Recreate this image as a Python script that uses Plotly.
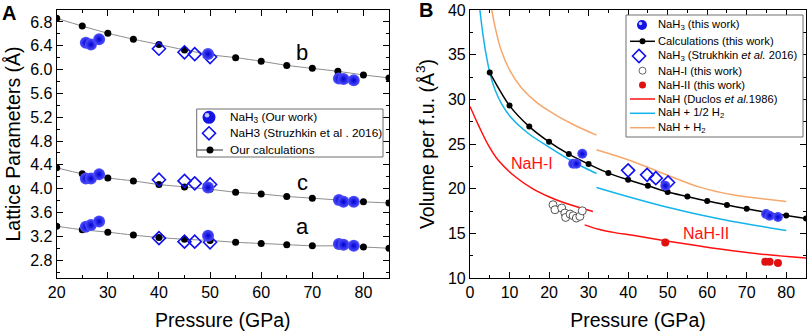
import plotly.graph_objects as go

W, H = 809, 334
FONT = "Arial, Liberation Sans, sans-serif"

# ---------------- Panel A: lattice parameters ----------------
calc_p = [20, 25, 30, 35, 40, 45, 50, 55, 60, 65, 70, 75, 80, 85]
calc_b = [6.86, 6.73, 6.61, 6.51, 6.42, 6.33, 6.25, 6.20, 6.14, 6.07, 6.02, 5.97, 5.91, 5.86]
calc_c = [4.35, 4.25, 4.18, 4.13, 4.07, 4.03, 3.99, 3.94, 3.91, 3.87, 3.84, 3.81, 3.78, 3.76]
calc_a = [3.37, 3.31, 3.27, 3.22, 3.18, 3.15, 3.13, 3.10, 3.08, 3.06, 3.04, 3.04, 3.02, 3.00]

exp_p = [25.7, 26.7, 28.3, 49.6, 75.2, 76.1, 78.1]
exp_b = [6.45, 6.42, 6.51, 6.26, 5.85, 5.84, 5.82]
exp_c = [4.17, 4.17, 4.24, 4.02, 3.81, 3.78, 3.78]
exp_a = [3.36, 3.39, 3.45, 3.21, 3.07, 3.06, 3.04]

str_p = [40, 45, 47, 50]
str_b = [6.35, 6.29, 6.26, 6.21]
str_c = [4.15, 4.13, 4.09, 4.07]
str_a = [3.17, 3.11, 3.11, 3.10]

param_labels = ["b", "c", "a"]
param_label_p = [68, 68, 68]
param_label_v = [6.29, 4.11, 3.36]

# ---------------- Panel B: volume per f.u. ----------------
vcalc_p = [5, 10, 15, 20, 25, 30, 35, 40, 45, 50, 55, 60, 65, 70, 75, 80, 85]
vcalc_v = [33.0, 29.3, 26.95, 25.24, 23.87, 22.75, 21.74, 20.99, 20.32, 19.62,
           19.12, 18.61, 18.16, 17.75, 17.34, 17.0, 16.66]

vexp_p = [26.1, 26.9, 28.4, 49.4, 74.9, 75.8, 77.9]
vexp_v = [22.78, 22.78, 23.9, 20.32, 17.16, 16.97, 16.82]

vstr_p = [40.0, 44.8, 47.0, 50.1]
vstr_v = [22.05, 21.55, 21.18, 20.69]

nah1_p = [21.0, 21.5, 23.2, 24.0, 24.2, 25.3, 26.1, 26.9, 27.8, 28.4]
nah1_v = [18.2, 17.64, 17.83, 17.27, 16.78, 17.16, 16.97, 16.71, 16.9, 17.52]

nah2_p = [49.4, 74.7, 75.8, 77.9]
nah2_v = [13.98, 11.82, 11.82, 11.68]

duc1_p = [0.0, 2.1, 4.6, 7.1, 11.4, 15.6, 19.8, 24.0, 31.1]
duc1_v = [29.2, 27.14, 24.9, 23.2, 21.36, 20.06, 19.12, 18.39, 17.45]
duc2_p = [29.0, 32.8, 36.6, 41.2, 49.7, 58.1, 66.5, 74.9, 85.0]
duc2_v = [15.95, 15.42, 15.08, 14.78, 14.15, 13.58, 13.05, 12.62, 12.24]

half1_p = [2.5, 3.2, 4.0, 5.0, 6.3, 8.0, 10.5, 14.7, 19.8, 25.7, 32.0]
half1_v = [40.0, 37.5, 35.2, 33.0, 31.1, 29.5, 27.9, 26.2, 24.7, 23.1, 21.7]
half2_p = [32.0, 41.2, 49.7, 58.1, 66.5, 80.0]
half2_v = [20.13, 18.95, 17.94, 17.08, 16.33, 15.32]

full1_p = [5.5, 6.5, 7.8, 10.0, 13.0, 17.0, 21.5, 26.5, 32.0]
full1_v = [40.0, 37.8, 35.6, 33.3, 31.3, 29.6, 28.3, 27.1, 26.0]
full2_p = [32.0, 41.2, 49.7, 58.1, 66.5, 80.0]
full2_v = [24.35, 23.04, 21.55, 20.17, 19.31, 18.57]

phase_labels = ["NaH-I", "NaH-II"]
phase_label_p = [15.6, 59.8]
phase_label_v = [22.8, 14.93]

# ---------------- styles ----------------
BLUE = "#1010f0"
SPHERE = dict(color="#5252ff", size=12, line=dict(width=0),
              gradient=dict(type="radial", color="#0000d0"))
RED = "#ff1010"
CYAN = "#12b4ec"
ORANGE = "#f6a86c"

fig = go.Figure()

# Panel A traces
for vals in (calc_b, calc_c, calc_a):
    fig.add_trace(go.Scatter(x=calc_p, y=vals, mode="lines+markers",
                             line=dict(color="#8c8c8c", width=1, shape="spline", smoothing=0.8),
                             marker=dict(color="black", size=7),
                             xaxis="x", yaxis="y", showlegend=False))
for vals in (str_b, str_c, str_a):
    fig.add_trace(go.Scatter(x=str_p, y=vals, mode="markers",
                             marker=dict(symbol="diamond-open", color=BLUE, size=10,
                                         line=dict(width=1.6, color=BLUE)),
                             xaxis="x", yaxis="y", showlegend=False))
for vals in (exp_b, exp_c, exp_a):
    fig.add_trace(go.Scatter(x=exp_p, y=vals, mode="markers", marker=SPHERE,
                             xaxis="x", yaxis="y", showlegend=False))

# Panel B traces
for px_, vy_, col in ((duc1_p, duc1_v, RED), (duc2_p, duc2_v, RED),
                      (half1_p, half1_v, CYAN), (half2_p, half2_v, CYAN),
                      (full1_p, full1_v, ORANGE), (full2_p, full2_v, ORANGE)):
    fig.add_trace(go.Scatter(x=px_, y=vy_, mode="lines",
                             line=dict(color=col, width=1.5, shape="spline", smoothing=1.0),
                             xaxis="x2", yaxis="y2", showlegend=False))
fig.add_trace(go.Scatter(x=vcalc_p, y=vcalc_v, mode="lines+markers",
                         line=dict(color="black", width=1.5, shape="spline", smoothing=0.8),
                         marker=dict(color="black", size=6),
                         xaxis="x2", yaxis="y2", showlegend=False))
fig.add_trace(go.Scatter(x=vstr_p, y=vstr_v, mode="markers",
                         marker=dict(symbol="diamond-open", color=BLUE, size=10,
                                     line=dict(width=1.6, color=BLUE)),
                         xaxis="x2", yaxis="y2", showlegend=False))
fig.add_trace(go.Scatter(x=vexp_p, y=vexp_v, mode="markers",
                         marker=dict(SPHERE, size=10),
                         xaxis="x2", yaxis="y2", showlegend=False))
fig.add_trace(go.Scatter(x=nah1_p, y=nah1_v, mode="markers",
                         marker=dict(color="white", size=8, line=dict(color="#555555", width=1)),
                         xaxis="x2", yaxis="y2", showlegend=False))
fig.add_trace(go.Scatter(x=nah2_p, y=nah2_v, mode="markers",
                         marker=dict(color="#e01010", size=8),
                         xaxis="x2", yaxis="y2", showlegend=False))

# ---------------- layout geometry (pixels -> paper) ----------------
ML, MR, MT, MB = 0, 0, 10, 56
PH = H - MT - MB


def fx(px):
    return px / W


def fy(py):
    return (H - MB - py) / PH


def axis_common(rng, dtick, minor_dtick, tick0=None, fmt=None):
    d = dict(range=rng, dtick=dtick, ticks="inside", ticklen=6, tickwidth=1.2,
             tickcolor="black", showline=True, linecolor="black", linewidth=1.2,
             mirror="allticks", showgrid=False, zeroline=False,
             tickfont=dict(family=FONT, size=16, color="black"),
             minor=dict(dtick=minor_dtick, ticks="inside", ticklen=3,
                        tickwidth=1, tickcolor="black", showgrid=False))
    if tick0 is not None:
        d["tick0"] = tick0
    if fmt:
        d["tickformat"] = fmt
    return d


title_font = dict(family=FONT, size=19.5, color="black")

xa = axis_common([20, 85], 10, 5, tick0=0)
xa.update(domain=[fx(56.7), fx(389)], anchor="y",
          title=dict(text="Pressure (GPa)", font=title_font, standoff=13))
ya = axis_common([2.5, 7.0], 0.4, 0.2, tick0=2.8, fmt=".1f")
ya.update(domain=[0, 1], anchor="x",
          title=dict(text="Lattice Parameters (Å)", font=title_font, standoff=4))
xb = axis_common([0, 85], 10, 5, tick0=0)
xb.update(domain=[fx(470), fx(806)], anchor="y2",
          title=dict(text="Pressure (GPa)", font=title_font, standoff=13))
yb = axis_common([10, 40], 5, 2.5, tick0=10)
yb.update(domain=[0, 1], anchor="x2",
          title=dict(text="Volume per f.u. (Å<sup>3</sup>)", font=title_font, standoff=8))

annotations = []
shapes = []

# panel letters
annotations.append(dict(text="<b>A</b>", x=fx(9), y=fy(13.3), xref="paper", yref="paper",
                        showarrow=False, font=dict(family=FONT, size=20, color="black"),
                        xanchor="center", yanchor="middle"))
annotations.append(dict(text="<b>B</b>", x=fx(425.5), y=fy(10), xref="paper", yref="paper",
                        showarrow=False, font=dict(family=FONT, size=20, color="black"),
                        xanchor="center", yanchor="middle"))

# b / c / a labels
for t, p, v in zip(param_labels, param_label_p, param_label_v):
    annotations.append(dict(text=t, x=p, y=v, xref="x", yref="y", showarrow=False,
                            font=dict(family=FONT, size=22, color="black"),
                            xanchor="center", yanchor="middle"))
# phase labels
for t, p, v in zip(phase_labels, phase_label_p, phase_label_v):
    annotations.append(dict(text=t, x=p, y=v, xref="x2", yref="y2", showarrow=False,
                            font=dict(family=FONT, size=16, color=RED),
                            xanchor="center", yanchor="middle"))


# ---------------- legends (drawn as layout decoration) ----------------
def leg_text(px, py, txt, size=11.8):
    annotations.append(dict(text=txt, x=fx(px), y=fy(py), xref="paper", yref="paper",
                            showarrow=False, xanchor="left", yanchor="middle",
                            font=dict(family=FONT, size=size, color="black")))


def key_circle(cx, cy, r, fill, line_col=None, lw=0):
    shapes.append(dict(type="circle", xref="paper", yref="paper", xsizemode="pixel",
                       ysizemode="pixel", xanchor=fx(cx), yanchor=fy(cy),
                       x0=-r, x1=r, y0=-r, y1=r, fillcolor=fill,
                       line=dict(color=line_col or fill, width=lw)))


def key_sphere(cx, cy, r):
    key_circle(cx, cy, r, "#1414e6")
    key_circle(cx - r * 0.3, cy - r * 0.3, r * 0.35, "#c8c8ff")


def key_diamond(cx, cy, r):
    shapes.append(dict(type="path", xref="paper", yref="paper", xsizemode="pixel",
                       ysizemode="pixel", xanchor=fx(cx), yanchor=fy(cy),
                       path=f"M {-r},0 L 0,{r} L {r},0 L 0,{-r} Z",
                       line=dict(color=BLUE, width=1.6)))


def key_line(x0, x1, cy, col, lw=1.5):
    shapes.append(dict(type="line", xref="paper", yref="paper",
                       x0=fx(x0), x1=fx(x1), y0=fy(cy), y1=fy(cy),
                       line=dict(color=col, width=lw)))


def box(x0, y0, x1, y1):
    shapes.append(dict(type="rect", xref="paper", yref="paper",
                       x0=fx(x0), x1=fx(x1), y0=fy(y1), y1=fy(y0),
                       fillcolor="white", line=dict(color="#6e6e6e", width=1)))


# Legend A
box(196.7, 109, 383, 157)
key_sphere(209, 117.3, 6.5)
leg_text(228, 117.3, "NaH<sub>3</sub> (Our work)")
key_diamond(209, 133.3, 6.5)
leg_text(228, 133.3, "NaH3 (Struzhkin et al . 2016)")
key_line(197, 223, 150, "#333333", 1)
key_circle(210, 150, 3.5, "black")
leg_text(228, 150, "Our calculations")

# Legend B
box(626, 15, 803, 137)
rows = [25, 41.3, 56, 70.7, 85, 99, 113.3, 127.7]
TX = 656
LB = 11.2
key_sphere(642, rows[0], 5)
leg_text(TX, rows[0], "NaH<sub>3</sub> (this work)", LB)
key_line(630, 655, rows[1], "black", 1.5)
key_circle(642.5, rows[1], 3, "black")
leg_text(TX, rows[1], "Calculations (this work)", LB)
key_diamond(639, rows[2], 6.5)
leg_text(TX, rows[2], "NaH<sub>3</sub> (Strukhkin <i>et al.</i> 2016)", LB)
key_circle(642.5, rows[3], 3.5, "white", "#666666", 1)
leg_text(TX, rows[3], "NaH-I (this work)", LB)
key_circle(642.5, rows[4], 3.5, "#e01010")
leg_text(TX, rows[4], "NaH-II (this work)", LB)
key_line(630, 655, rows[5], RED)
leg_text(TX, rows[5], "NaH (Duclos <i>et al.</i>1986)", LB)
key_line(630, 655, rows[6], CYAN)
leg_text(TX, rows[6], "NaH + 1/2 H<sub>2</sub>", LB)
key_line(630, 655, rows[7], ORANGE)
leg_text(TX, rows[7], "NaH + H<sub>2</sub>", LB)

fig.update_layout(
    width=W, height=H,
    margin=dict(l=ML, r=MR, t=MT, b=MB, autoexpand=False),
    paper_bgcolor="white", plot_bgcolor="white",
    font=dict(family=FONT, color="black"),
    xaxis=xa, yaxis=ya, xaxis2=xb, yaxis2=yb,
    annotations=annotations, shapes=shapes,
    showlegend=False,
)

fig.write_html("out.html", config={"displayModeBar": False},
               post_script="document.body.style.margin='0';document.body.style.padding='0';")
